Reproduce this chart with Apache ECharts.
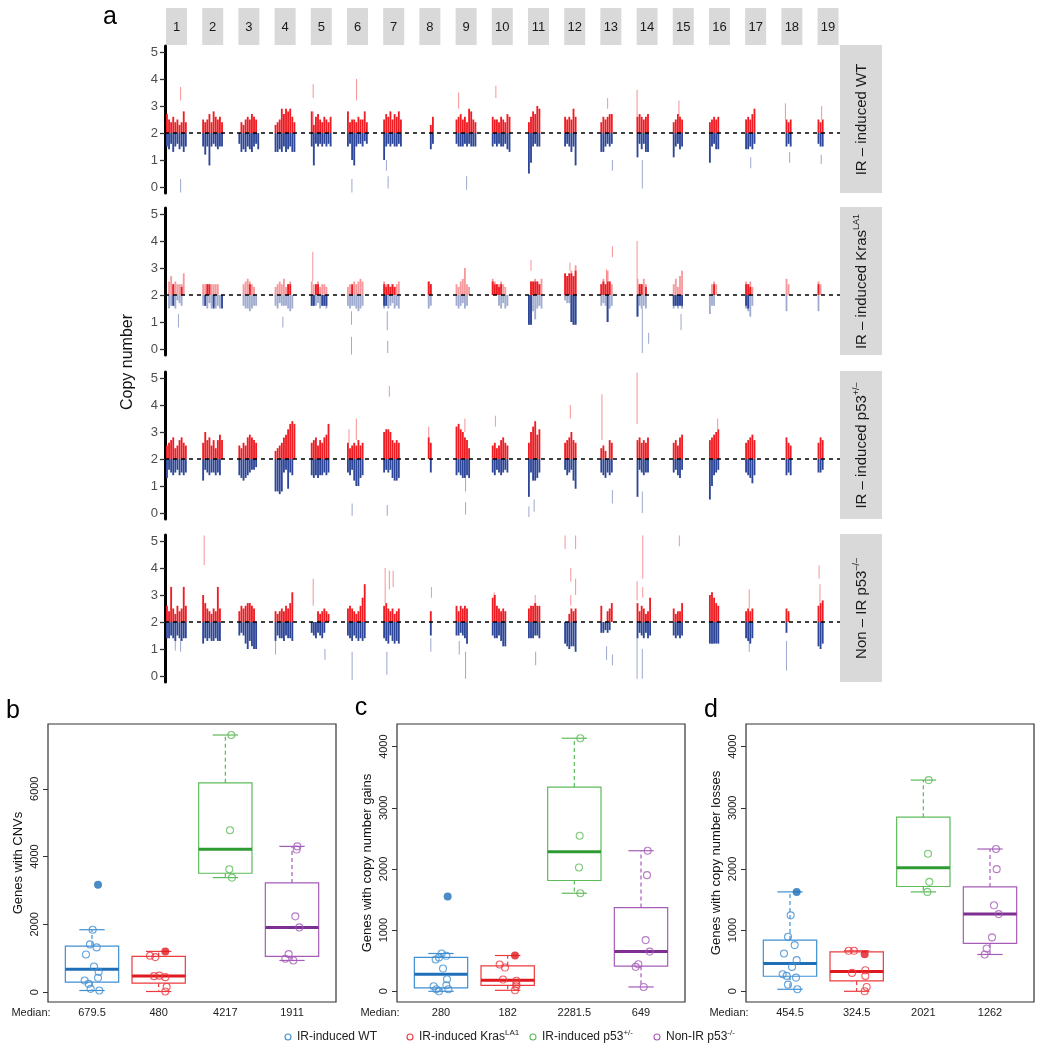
<!DOCTYPE html>
<html><head><meta charset="utf-8">
<script src="https://cdn.jsdelivr.net/npm/echarts@6/dist/echarts.min.js"></script>
<style>html,body{margin:0;padding:0;background:#fff}#c{width:1044px;height:1050px}</style>
</head><body><div id="c"></div>
<script>
// ---------------- DATA ----------------
const chrLabels = ['1','2','3','4','5','6','7','8','9','10','11','12','13','14','15','16','17','18','19'];
const copyTicks = [0,1,2,3,4,5];
// copy number (tenths) per chromosome, 10 positions along each chromosome; 0 = no segment
const gainWT = [
[27,25,24,26,24,25,23,24,28,24],[25,24,25,27,24,28,26,25,26,24],[0,24,23,25,26,25,27,26,25,0],
[23,24,25,29,27,29,28,29,26,24],[28,23,26,27,25,24,26,25,24,26],[28,24,25,25,24,26,25,25,28,24],
[25,27,26,28,25,27,26,28,25,0],[0,0,0,0,0,23,26,0,0,0],[25,26,27,25,26,24,29,28,25,24],
[26,25,25,24,26,25,24,27,26,0],[24,26,28,27,30,29,0,0,0,0],[26,25,26,25,29,26,0,0,0,0],
[24,26,25,26,27,27,0,0,0,0],[26,27,26,25,26,27,0,0,0,0],[24,25,27,26,25,0,0,0,0,0],
[24,25,26,25,26,0,0,0,0,0],[25,26,25,27,29,0,0,0,0,0],[0,0,25,24,25,0,0,0,0,0],[25,24,25,0,0,0,0,0,0,0]];
const lossWT = [
[15,14,16,13,15,16,14,15,13,15],[15,12,15,8,15,16,15,14,15,15],[16,13,14,13,15,14,13,15,16,14],
[13,13,14,13,15,13,14,15,13,13],[15,8,16,15,16,15,16,15,16,15],[15,16,10,8,15,16,16,15,17,16],
[10,15,16,15,16,15,15,16,15,0],[0,0,0,0,0,14,16,0,0,0],[16,15,15,15,16,15,16,15,15,15],
[15,16,15,16,15,15,16,14,13,0],[5,9,15,16,15,15,0,0,0,0],[15,16,15,13,15,8,0,0,0,0],
[13,13,15,16,15,16,0,0,0,0],[11,16,14,16,13,13,0,0,0,0],[11,15,16,14,15,0,0,0,0,0],
[9,15,16,14,14,0,0,0,0,0],[14,14,15,14,16,0,0,0,0,0],[0,0,15,16,15,0,0,0,0,0],[16,15,15,0,0,0,0,0,0,0]];
// isolated segments: [chromosome, position along chromosome (0-1), from, to]
const spikesWT = [[1,0.7,3.2,3.7],[1,0.7,-0.2,0.3],[5,0.12,3.3,3.8],[5,0.12,2.0,2.8],[6,0.46,3.2,4.0],[6,0.24,-0.2,0.3],
[7,0.16,0.6,1.0],[7,0.24,-0.05,0.4],[9,0.15,2.9,3.5],[9,0.53,-0.1,0.4],[10,0.2,3.3,3.75],[13,0.35,2.9,3.3],
[13,0.58,0.6,1.0],[14,0.03,2.0,3.6],[14,0.28,-0.05,1.0],[15,0.3,2.6,3.2],[17,0.27,0.7,1.1],[18,0.2,2.5,3.1],
[18,0.4,0.9,1.3],[19,0.2,2.5,3.0],[19,0.18,0.85,1.2]];

const gainKR = [
[0,25,27,24,25,24,24,24,28,0],[24,24,24,24,24,24,24,24,0,0],[0,0,24,25,26,25,24,23,0,0],
[23,24,25,24,26,23,24,25,0,0],[25,24,24,25,23,24,24,23,0,0],[23,24,23,25,24,25,26,25,0,0],
[25,24,24,23,24,23,24,25,0,0],[0,0,0,0,25,24,0,0,0,0],[24,23,25,26,30,24,23,0,0,0],
[26,25,24,24,25,24,23,0,0,0],[0,25,25,26,25,24,26,0,0,0],[28,27,28,29,27,31,0,0,0,0],
[24,26,24,29,25,24,0,0,0,0],[26,24,24,26,24,0,0,0,0,0],[24,26,23,27,29,0,0,0,0,0],
[0,24,25,24,0,0,0,0,0,0],[25,24,25,23,0,0,0,0,0,0],[0,0,26,24,0,0,0,0,0,0],[25,24,0,0,0,0,0,0,0,0]];
const lossKR = [
[0,15,16,16,15,18,17,16,0,0],[16,16,15,17,15,16,15,16,15,0],[0,0,16,15,15,14,15,16,16,0],
[16,15,17,16,16,16,15,14,15,0],[16,16,16,17,15,16,16,15,0,0],[16,15,16,16,15,14,15,16,0,0],
[15,16,15,16,17,15,16,15,0,0],[0,0,0,0,15,16,0,0,0,0],[16,15,16,17,15,16,0,0,0,0],
[0,0,0,16,15,17,15,16,0,0],[9,9,14,11,15,16,15,0,0,0],[18,17,17,10,9,9,0,0,0,0],
[16,17,16,10,15,16,0,0,0,0],[12,16,15,16,15,0,0,0,0,0],[15,16,15,16,15,0,0,0,0,0],
[13,16,16,0,0,0,0,0,0,0],[15,14,12,16,0,0,0,0,0,0],[0,0,14,0,0,0,0,0,0,0],[14,0,0,0,0,0,0,0,0,0]];
// segments shared by many samples (drawn saturated)
const gainCoreKR = [
[0,0,0,24,0,0,0,23,0,0],[0,0,24,24,0,0,0,0,0,0],[0,0,0,0,0,24,0,0,0,0],[0,0,0,0,0,0,24,24,0,0],
[0,0,24,24,0,0,0,0,0,0],[0,0,24,0,0,0,0,0,0,0],[24,23,24,23,24,23,0,0,0,0],[0,0,0,0,25,24,0,0,0,0],
[0,0,0,0,0,0,0,0,0,0],[25,24,24,23,24,0,0,0,0,0],[0,25,25,25,25,24,0,0,0,0],[28,27,28,28,27,29,0,0,0,0],
[24,25,24,25,25,0,0,0,0,0],[0,24,24,0,23,0,0,0,0,0],[0,0,0,0,0,0,0,0,0,0],[0,0,24,0,0,0,0,0,0,0],
[24,24,23,0,0,0,0,0,0,0],[0,0,0,0,0,0,0,0,0,0],[24,0,0,0,0,0,0,0,0,0]];
const lossCoreKR = [
[0,0,0,16,0,0,0,0,0,0],[0,16,0,0,0,15,0,0,0,15],[0,0,0,0,0,0,0,0,0,0],[0,0,0,0,0,0,0,0,0,0],
[16,16,0,0,0,16,16,16,0,0],[0,0,0,0,0,0,0,0,0,0],[16,16,0,0,0,0,0,0,0,0],[0,0,0,0,0,0,0,0,0,0],
[0,0,0,0,0,0,0,0,0,0],[0,0,0,0,0,0,0,0,0,0],[9,9,0,0,0,0,0,0,0,0],[0,0,0,10,9,9,0,0,0,0],
[0,0,0,10,0,0,0,0,0,0],[12,0,0,0,0,0,0,0,0,0],[16,16,16,16,16,0,0,0,0,0],[0,0,0,0,0,0,0,0,0,0],
[16,15,0,0,0,0,0,0,0,0],[0,0,0,0,0,0,0,0,0,0],[0,0,0,0,0,0,0,0,0,0]];
const spikesKR = [[1,0.6,0.8,1.3],[4,0.4,0.8,1.2],[5,0.1,2.5,3.6],[6,0.22,0.9,1.4],[6,0.22,-0.2,0.45],
[7,0.2,0.7,1.4],[7,0.22,-0.15,0.3],[11,0.15,2.9,3.3],[12,0.28,2.9,3.2],[13,0.3,2.5,2.95],[13,0.58,3.4,3.8],
[14,0.03,2.6,4.0],[14,0.28,-0.15,1.5],[14,0.58,0.2,0.6],[15,0.4,0.7,1.3]];

const gainP3 = [
[25,26,27,28,24,25,27,28,26,25],[26,30,27,28,25,27,24,27,29,27],[25,24,26,25,28,29,28,27,26,0],
[23,24,25,26,28,29,31,33,34,33],[26,27,28,25,27,26,28,29,33,0],[26,24,25,26,25,27,25,26,0,0],
[30,31,31,30,27,26,27,26,0,0],[0,0,0,0,28,26,0,0,0,0],[32,33,31,30,28,27,24,0,0,0],
[25,26,24,25,27,28,26,25,0,0],[26,30,32,34,29,31,0,0,0,0],[26,27,28,30,27,26,0,0,0,0],
[24,25,23,0,27,26,0,0,0,0],[27,28,26,27,26,28,0,0,0,0],[26,27,25,28,29,0,0,0,0,0],
[27,28,29,30,31,0,0,0,0,0],[26,27,28,29,27,0,0,0,0,0],[0,0,28,26,25,0,0,0,0,0],[26,28,27,0,0,0,0,0,0,0]];
const lossP3 = [
[13,16,15,14,15,16,14,15,14,15],[12,16,15,14,15,15,14,15,14,0],[14,13,12,13,14,15,16,16,17,0],
[8,8,7,8,15,16,9,15,14,0],[14,13,14,13,14,14,15,14,15,0],[15,14,16,12,10,10,13,14,0,0],
[15,16,15,16,13,12,12,13,0,0],[0,0,0,0,0,15,0,0,0,0],[14,15,14,13,13,14,13,0,0,0],
[15,14,16,15,14,15,16,15,0,0],[6,15,12,12,13,15,0,0,0,0],[16,14,15,16,12,9,0,0,0,0],
[15,14,13,15,14,15,0,0,0,0],[6,16,15,14,15,15,0,0,0,0],[15,16,14,13,16,0,0,0,0,0],
[5,10,14,15,16,0,0,0,0,0],[15,14,13,11,14,0,0,0,0,0],[0,0,14,15,14,0,0,0,0,0],[15,15,16,0,0,0,0,0,0,0]];
const spikesP3 = [[6,0.1,2.6,3.1],[6,0.45,2.7,3.5],[6,0.25,-0.1,0.35],[7,0.3,4.3,4.7],[7,0.2,-0.1,0.3],
[8,0.45,2.8,3.2],[9,0.45,3.0,3.5],[9,0.48,0.8,1.3],[9,0.48,-0.05,0.4],[10,0.18,3.2,3.6],
[11,0.05,-0.15,0.25],[11,0.3,0.05,0.5],[12,0.3,3.5,4.0],[13,0.08,2.7,4.4],[13,0.58,0.35,0.85],
[14,0.03,3.3,5.2],[14,0.28,0.0,0.8],[16,0.42,3.1,3.5]];

const gainNI = [
[26,24,33,25,23,26,24,25,33,26],[30,27,25,24,23,25,24,33,25,0],[24,26,25,26,27,27,26,25,0,0],
[24,23,24,25,24,26,25,27,31,0],[0,0,0,24,23,24,25,24,23,0],[25,26,25,24,23,24,26,29,34,0],
[26,27,25,24,25,23,24,25,0,0],[0,0,0,0,0,24,0,0,0,0],[26,24,26,25,26,25,0,0,0,0],
[29,30,26,25,24,25,24,0,0,0],[25,26,26,27,26,26,0,0,0,0],[0,0,23,25,24,25,0,0,0,0],
[26,0,0,24,25,27,0,0,0,0],[27,24,26,25,23,24,29,0,0,0],[25,23,24,24,27,0,0,0,0,0],
[30,31,29,27,26,0,0,0,0,0],[24,25,24,25,0,0,0,0,0,0],[0,0,25,24,0,0,0,0,0,0],[26,27,28,0,0,0,0,0,0,0]];
const lossNI = [
[14,14,15,14,13,15,14,13,14,14],[12,14,13,14,13,13,14,13,13,0],[15,16,15,12,10,13,11,10,10,0],
[13,15,14,14,13,15,14,14,13,0],[16,15,14,16,15,14,16,0,0,0],[15,14,13,15,14,13,14,13,14,0],
[14,13,12,15,13,12,13,12,0,0],[0,0,0,0,0,15,0,0,0,0],[15,15,16,15,14,12,0,0,0,0],
[15,14,14,15,13,11,11,0,0,0],[14,14,14,15,15,14,0,0,0,0],[12,11,10,11,11,9,0,0,0,0],
[16,16,17,16,17,0,0,0,0,0],[14,16,15,14,16,14,15,0,0,0],[15,14,15,14,15,0,0,0,0,0],
[12,12,12,12,12,0,0,0,0,0],[14,13,12,14,0,0,0,0,0,0],[0,0,16,0,0,0,0,0,0,0],[11,10,12,0,0,0,0,0,0,0]];
const spikesNI = [[1,0.45,0.95,1.4],[1,0.7,0.9,1.4],[2,0.1,4.1,5.2],[4,0.05,0.8,1.3],[5,0.12,2.6,3.6],
[5,0.68,0.6,1.0],[6,0.25,-0.15,0.9],[7,0.1,2.7,4.0],[7,0.3,3.2,3.9],[7,0.48,3.3,3.9],[7,0.18,0.05,0.9],
[8,0.58,2.9,3.3],[8,0.55,0.9,1.4],[9,0.18,0.8,1.3],[9,0.48,-0.1,0.9],[10,0.12,2.9,3.1],[11,0.35,2.6,3.0],
[11,0.37,0.4,0.9],[12,0.05,4.7,5.2],[12,0.55,4.7,5.2],[12,0.32,3.5,4.0],[12,0.55,3.0,3.6],[12,0.32,2.6,3.0],
[13,0.3,0.6,1.1],[13,0.58,0.4,0.8],[14,0.03,2.8,3.5],[14,0.3,3.6,5.2],[14,0.3,2.9,3.3],[14,0.03,-0.1,1.4],
[14,0.28,-0.1,1.0],[15,0.32,4.8,5.2],[17,0.2,2.5,3.2],[17,0.2,0.9,1.4],[18,0.25,0.2,1.3],
[19,0.08,3.6,4.1],[19,0.12,2.7,3.4]];

// ---- box plot panels ----
const groupNames = ['IR-induced WT','IR-induced Kras','IR-induced p53','Non-IR p53'];
const groupSup = ['','LA1','+/-','-/-'];
// [group, lower whisker, Q1, median, Q3, upper whisker]
const statsB = [[1,49,295,679.5,1359,1842],[2,20,266,480,1054,1202],[3,3379,3507,4217,6176,7585],[4,936,1054,1911,3221,4300]];
const statsC = [[1,0,55,280,553,618],[2,16,98,182,416,585],[3,1603,1811,2281.5,3338,4137],[4,71,410,649,1368,2298]];
const statsD = [[1,33,246,454.5,837,1625],[2,0,170,324.5,646,662],[3,1625,1713,2021,2846,3453],[4,602,783,1262,1707,2326]];
const mediansB = ['679.5','480','4217','1911'];
const mediansC = ['280','182','2281.5','649'];
const mediansD = ['454.5','324.5','2021','1262'];
// samples: [group + jitter, value]
const ptsB = [
 [[1.01,1842],[0.97,1409],[1.07,1320],[0.91,1113],[1.03,758],[1.10,600],[1.09,424],[0.89,345],[0.95,246],[0.98,98],[1.11,49]],
 [[1.87,1074],[1.95,1034],[1.93,473],[2.01,487],[2.10,443],[2.12,158],[2.10,20]],
 [[3.09,7585],[3.07,4777],[3.06,3625],[3.10,3379]],
 [[4.08,4300],[4.07,4206],[4.05,2236],[4.11,1911],[3.95,1123],[3.90,985],[4.02,936]]];
const filledB = [[1.09,3172],[2.10,1202]];
const ptsC = [
 [[1.01,618],[0.97,553],[0.92,520],[1.08,580],[1.03,372],[1.09,197],[1.08,98],[0.89,82],[0.93,33],[0.97,0],[1.11,33]],
 [[1.88,438],[1.96,388],[1.93,192],[2.13,172],[2.13,115],[2.13,82],[2.11,16]],
 [[3.09,4137],[3.08,2544],[3.07,2025],[3.09,1603]],
 [[4.10,2298],[4.09,1899],[4.07,837],[4.13,649],[3.96,443],[3.92,400],[4.04,71]]];
const filledC = [[1.10,1548],[2.11,585]];
const ptsD = [
 [[1.01,1242],[0.97,892],[1.07,755],[0.91,618],[1.10,509],[1.03,399],[0.89,279],[0.95,252],[1.09,224],[0.97,109],[1.11,33]],
 [[1.88,662],[1.96,662],[1.93,301],[2.13,345],[2.13,252],[2.15,71],[2.12,0]],
 [[3.08,3453],[3.07,2249],[3.09,1789],[3.06,1625]],
 [[4.09,2326],[4.10,1997],[4.06,1406],[4.13,1262],[4.03,881],[3.95,700],[3.92,602]]];
const filledD = [[1.10,1625],[2.12,607]];
const ticksB = [0,2000,4000,6000];
const ticksCD = [0,1000,2000,3000,4000];

// ---------------- LAYOUT / STYLE ----------------
const FONT = "'Liberation Sans', Arial, Helvetica, sans-serif";
const RED = '#EE1D23', BLUE = '#2D4697';
const boxCol = ['#3F8FD2','#EC3A3F','#5DBB5A','#A65DB8'];
const medCol = ['#1F6FB8','#E0191F','#2E9B33','#7E2E91'];
const rowTops = [46,208,372,535], rowH = 147;
const rowAlpha = [1,0.45,1,1];
const rowText = [
  '{n|IR \u2013 induced WT}',
  '{n|IR \u2013 induced Kras}{s|LA1}',
  '{n|IR \u2013 induced p53}{s|+/\u2013}',
  '{n|Non \u2013 IR p53}{s|\u2013/\u2013}'];
const rows = [
  {gain:gainWT, loss:lossWT, gc:null, lc:null, sp:spikesWT},
  {gain:gainKR, loss:lossKR, gc:gainCoreKR, lc:lossCoreKR, sp:spikesKR},
  {gain:gainP3, loss:lossP3, gc:null, lc:null, sp:spikesP3},
  {gain:gainNI, loss:lossNI, gc:null, lc:null, sp:spikesNI}];
const XMIN = 0.682, XMAX = 19.33, HALF = 0.29, SLOT = 0.058;

function buildCells(r) {
  const out = [];
  function addArr(arr, kindUp, kindDown) {
    if (!arr) return;
    arr.forEach((vals, ci) => vals.forEach((v, s) => {
      if (!v) return;
      const x0 = ci + 1 - HALF + s * SLOT, cn = v / 10;
      if (cn >= 2) out.push([x0, x0 + SLOT, 2, cn, kindUp]);
      else out.push([x0, x0 + SLOT, cn, 2, kindDown]);
    }));
  }
  addArr(r.gain, 0, 1); addArr(r.loss, 0, 1);
  addArr(r.gc, 2, 3); addArr(r.lc, 2, 3);
  r.sp.forEach(s => {
    const xc = s[0] - HALF + s[1] * 2 * HALF;
    out.push([xc - 0.018, xc + 0.018, s[2], s[3], s[2] >= 2 ? 4 : 5]);
  });
  return out;
}
function renderCN(alpha) {
  return function (params, api) {
    const k = api.value(4);
    const a = api.coord([api.value(0), api.value(3)]);
    const b = api.coord([api.value(1), api.value(2)]);
    const up = (k === 0 || k === 2 || k === 4);
    const op = k < 2 ? alpha : (k < 4 ? 1 : 0.45);
    return {type:'rect', shape:{x:a[0], y:a[1], width:Math.max(b[0]-a[0]-0.25, 1), height:b[1]-a[1]},
      style:{fill: up ? RED : BLUE, opacity: op}};
  };
}
function renderBox(params, api) {
  const g = api.value(0), lo = api.value(1), q1 = api.value(2), md = api.value(3), q3 = api.value(4), hi = api.value(5);
  const c = boxCol[g - 1], m = medCol[g - 1];
  const tl = api.coord([g - 0.4, q3]), br = api.coord([g + 0.4, q1]);
  const pm1 = api.coord([g - 0.4, md]), pm2 = api.coord([g + 0.4, md]);
  const pq3 = api.coord([g, q3]), phi = api.coord([g, hi]), pq1 = api.coord([g, q1]), plo = api.coord([g, lo]);
  const s1 = api.coord([g - 0.19, hi]), s2 = api.coord([g + 0.19, hi]);
  const s3 = api.coord([g - 0.19, lo]), s4 = api.coord([g + 0.19, lo]);
  return {type:'group', children:[
    {type:'line', shape:{x1:pq3[0], y1:pq3[1], x2:phi[0], y2:phi[1]}, style:{stroke:c, lineWidth:1.2, lineDash:[4,3]}},
    {type:'line', shape:{x1:pq1[0], y1:pq1[1], x2:plo[0], y2:plo[1]}, style:{stroke:c, lineWidth:1.2, lineDash:[4,3]}},
    {type:'line', shape:{x1:s1[0], y1:s1[1], x2:s2[0], y2:s2[1]}, style:{stroke:c, lineWidth:1.2}},
    {type:'line', shape:{x1:s3[0], y1:s3[1], x2:s4[0], y2:s4[1]}, style:{stroke:c, lineWidth:1.2}},
    {type:'rect', shape:{x:tl[0], y:tl[1], width:br[0]-tl[0], height:br[1]-tl[1]}, style:{fill:'none', stroke:c, lineWidth:1.2}},
    {type:'line', shape:{x1:pm1[0], y1:pm1[1], x2:pm2[0], y2:pm2[1]}, style:{stroke:m, lineWidth:3}}
  ]};
}

const grid = [], xAxis = [], yAxis = [], series = [];
rows.forEach((r, i) => {
  grid.push({left:165, width:675, top:rowTops[i], height:rowH});
  xAxis.push({gridIndex:i, type:'value', min:XMIN, max:XMAX, show:false});
  yAxis.push({gridIndex:i, type:'value', min:-0.22, max:5.22, splitLine:{show:false},
    axisLine:{show:true, lineStyle:{color:'#000', width:3}},
    axisTick:{show:true, length:5, customValues:copyTicks, lineStyle:{color:'#333', width:1.3}},
    axisLabel:{customValues:copyTicks, fontSize:13, color:'#4D4D4D', margin:7, fontFamily:FONT}});
  series.push({type:'custom', xAxisIndex:i, yAxisIndex:i, renderItem:renderCN(rowAlpha[i]),
    data:buildCells(r), encode:{x:[0,1], y:[2,3]}, silent:true, animation:false, z:2});
  series.push({type:'line', xAxisIndex:i, yAxisIndex:i, data:[[XMIN,2],[XMAX,2]], symbol:'none', silent:true,
    animation:false, z:5, lineStyle:{color:'#000', width:1.6, type:[4,4]}});
});
const boxPanels = [
  {left:48, min:-290, max:7910, ticks:ticksB, name:'Genes with CNVs', stats:statsB, pts:ptsB, filled:filledB, med:mediansB},
  {left:397, min:-175, max:4370, ticks:ticksCD, name:'Genes with copy number gains', stats:statsC, pts:ptsC, filled:filledC, med:mediansC},
  {left:746, min:-175, max:4370, ticks:ticksCD, name:'Genes with copy number losses', stats:statsD, pts:ptsD, filled:filledD, med:mediansD}];
boxPanels.forEach((p, k) => {
  const gi = 4 + k;
  grid.push({left:p.left, width:288, top:724, height:278, show:true, borderColor:'#333', borderWidth:1.2, backgroundColor:'rgba(0,0,0,0)'});
  xAxis.push({gridIndex:gi, type:'value', min:0.34, max:4.66, show:false});
  yAxis.push({gridIndex:gi, type:'value', min:p.min, max:p.max, splitLine:{show:false}, axisLine:{show:false},
    axisTick:{show:true, length:5, customValues:p.ticks, lineStyle:{color:'#333', width:1}},
    axisLabel:{customValues:p.ticks, formatter:(v) => String(Math.round(v)), rotate:90, align:'center', verticalAlign:'bottom', margin:8, fontSize:11, color:'#222', fontFamily:FONT},
    name:p.name, nameLocation:'middle', nameGap:23, nameRotate:90, nameTextStyle:{fontSize:13, color:'#111', fontFamily:FONT}});
  series.push({type:'custom', xAxisIndex:gi, yAxisIndex:gi, renderItem:renderBox, data:p.stats,
    encode:{x:0, y:[1,5]}, silent:true, animation:false, z:2});
  p.pts.forEach((arr, g) => series.push({type:'scatter', xAxisIndex:gi, yAxisIndex:gi, data:arr, symbol:'circle',
    symbolSize:7, silent:true, animation:false, z:3,
    itemStyle:{color:'rgba(0,0,0,0)', borderColor:boxCol[g], borderWidth:1.1}}));
  series.push({type:'scatter', xAxisIndex:gi, yAxisIndex:gi, data:p.filled, symbol:'circle', symbolSize:8,
    silent:true, animation:false, z:4, itemStyle:{color:(pr) => medCol[Math.round(pr.value[0]) - 1]}});
});

const chart = echarts.init(document.getElementById('c'), null, {renderer:'canvas'});
chart.setOption({backgroundColor:'#fff', animation:false, textStyle:{fontFamily:FONT}, grid, xAxis, yAxis, series});

// --------- strips, titles, legend ---------
const G = [];
chrLabels.forEach((lab, i) => {
  const cx = chart.convertToPixel({xAxisIndex:0}, i + 1);
  G.push({type:'rect', shape:{x:cx - 10.5, y:8, width:21, height:37}, style:{fill:'#D9D9D9'}, silent:true});
  G.push({type:'text', x:cx, y:27, style:{text:lab, fontSize:13, fill:'#1A1A1A', fontFamily:FONT, align:'center', verticalAlign:'middle'}, silent:true});
});
rowText.forEach((t, i) => {
  G.push({type:'rect', shape:{x:840, y:rowTops[i] - 1, width:42, height:rowH + 1}, style:{fill:'#D9D9D9'}, silent:true});
  G.push({type:'text', x:862, y:rowTops[i] + rowH / 2, rotation:Math.PI / 2,
    style:{text:t, align:'center', verticalAlign:'middle', fontFamily:FONT,
      rich:{n:{fontSize:15, fill:'#1A1A1A', fontFamily:FONT, lineHeight:20}, s:{fontSize:9, fill:'#1A1A1A', fontFamily:FONT, lineHeight:11, verticalAlign:'top'}}}, silent:true});
});
G.push({type:'text', x:128, y:362, rotation:Math.PI / 2, style:{text:'Copy number', fontSize:16, fill:'#111', fontFamily:FONT, align:'center', verticalAlign:'middle'}, silent:true});
[['a',110,17],['b',13,711],['c',361,708],['d',711,710]].forEach(l => G.push({type:'text', x:l[1], y:l[2],
  style:{text:l[0], fontSize:25, fill:'#000', fontFamily:FONT, align:'center', verticalAlign:'middle'}, silent:true}));
boxPanels.forEach((p, k) => {
  G.push({type:'text', x:p.left - 17, y:1013, style:{text:'Median:', fontSize:11, fill:'#222', fontFamily:FONT, align:'center', verticalAlign:'middle'}, silent:true});
  p.med.forEach((m, g) => {
    const px = chart.convertToPixel({xAxisIndex:4 + k}, g + 1);
    G.push({type:'text', x:px, y:1013, style:{text:m, fontSize:11, fill:'#222', fontFamily:FONT, align:'center', verticalAlign:'middle'}, silent:true});
  });
});
const legX = [288, 410, 533, 657];
groupNames.forEach((nm, g) => {
  G.push({type:'circle', shape:{cx:legX[g], cy:1037, r:3}, style:{fill:'none', stroke:boxCol[g], lineWidth:1.1}, silent:true});
  const txt = groupSup[g] ? '{n|' + nm + '}{s|' + groupSup[g] + '}' : '{n|' + nm + '}';
  G.push({type:'text', x:legX[g] + 9, y:1037, style:{text:txt, align:'left', verticalAlign:'middle', fontFamily:FONT,
    rich:{n:{fontSize:12, fill:'#222', fontFamily:FONT, lineHeight:16}, s:{fontSize:8, fill:'#222', fontFamily:FONT, lineHeight:9, verticalAlign:'top'}}}, silent:true});
});
chart.setOption({graphic:G});
</script></body></html>
